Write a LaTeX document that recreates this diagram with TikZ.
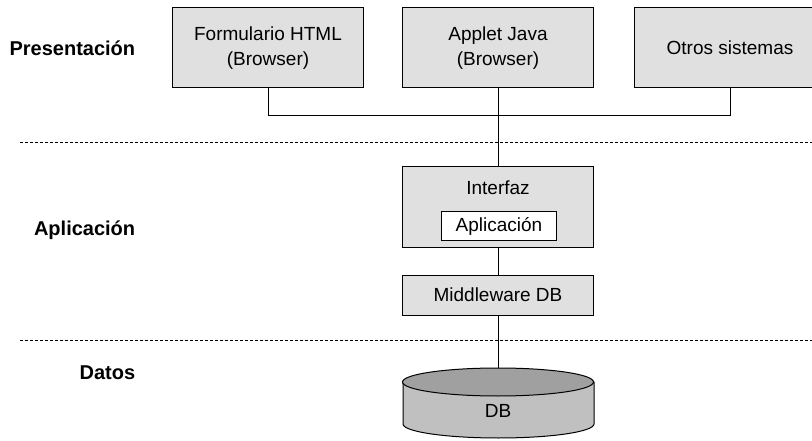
\documentclass[tikz,border=0pt]{standalone}
\usepackage{fontspec}
\setmainfont{Liberation Sans}
\usepackage{tikz}
\usetikzlibrary{positioning}
\usepackage{xcolor}
\definecolor{boxfill}{RGB}{224,224,224}
\definecolor{dbtopfill}{RGB}{160,160,160}
\definecolor{dbbodyfill}{RGB}{192,192,192}

\begin{document}
\begin{tikzpicture}[x=1pt, y=-1pt, line width=1pt,
    font=\fontsize{19}{25}\selectfont,
    box/.style={draw, fill=boxfill, minimum width=191pt, inner sep=0pt, align=center},
    layer/.style={font=\fontsize{20}{25}\selectfont\bfseries, anchor=east},
    sep/.style={dash pattern=on 3pt off 2pt, line width=0.8pt}]
                \useasboundingbox (0,0) rectangle (812,441);
                % capas
                \node[layer] (pres) at (139,48) {Presentación};
                \node[layer] (apl) at (139,230) {Aplicación};
                \node[layer] (dat) at (139,373) {Datos};
                \coordinate (s1a) at (20,142);
                \coordinate (s1b) at (812,142);
                \coordinate (s2a) at (20,340);
                \coordinate (s2b) at (812,340);
                \draw[sep] (s1a) -- (s1b);
                \draw[sep] (s2a) -- (s2b);
                % presentacion
                \node[box, minimum height=80pt] (form) at (268,48) {Formulario HTML\\(Browser)};
                \node[box, minimum height=80pt] (applet) at (498,48) {Applet Java\\(Browser)};
                \node[box, minimum height=80pt] (otros) at (730,48) {Otros sistemas};
                \draw (form.south) -- ++(0,27) -| (otros.south);
                % aplicacion
                \node[box, minimum height=81pt] (interfaz) at (498,207) {};
                \node (itxt) at (498,188) {Interfaz};
                \node[draw, fill=white, minimum width=115pt, minimum height=28pt, inner sep=0pt] (app) at (499,226) {Aplicación};
                \node[box, minimum height=40pt] (mw) at (498,295) {Middleware DB};
                \draw (applet) -- (interfaz);
                \draw (interfaz) -- (mw);
                % datos
                \draw[fill=dbbodyfill] (403,382) -- (403,424) arc[start angle=180, end angle=360, x radius=95.5pt, y radius=14pt] -- (594,382) -- cycle;
                \draw[fill=dbtopfill] (498,382) ellipse[x radius=95.5pt, y radius=14pt];
                \coordinate (dbtop) at (498,368);
                \node (db) at (498,411) {DB};
                \draw (mw) -- (dbtop);
            \end{tikzpicture}
\end{document}
